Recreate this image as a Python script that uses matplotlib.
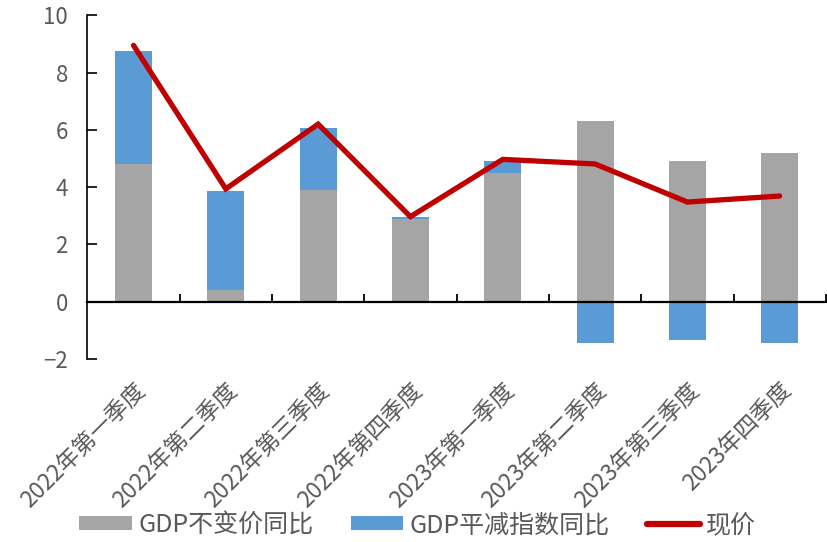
import matplotlib
matplotlib.use('Agg')

import matplotlib.pyplot as plt
from matplotlib.patches import Patch
from matplotlib.lines import Line2D
import numpy as np

plt.rcParams['font.family'] = ['Noto Sans CJK SC', 'DejaVu Sans']
plt.rcParams['axes.unicode_minus'] = True

quarters = ["2022年第一季度", "2022年第二季度", "2022年第三季度", "2022年第四季度",
            "2023年第一季度", "2023年第二季度", "2023年第三季度", "2023年四季度"]
real_gdp = [4.8, 0.4, 3.9, 2.9, 4.5, 6.3, 4.9, 5.2]
deflator = [3.95, 3.45, 2.15, 0.05, 0.4, -1.43, -1.34, -1.43]
nominal = [8.95, 3.94, 6.2, 2.97, 4.97, 4.81, 3.48, 3.69]

COLORS = {
    "real": "#A5A5A5",
    "deflator": "#5B9BD5",
    "nominal": "#C00000",
    "text": "#595959",
}

fig = plt.figure(figsize=(8.27, 5.42), dpi=100)
ax = fig.add_axes([0.1056, 0.3376, 0.893, 0.6342])

x = np.arange(len(quarters))
real = np.array(real_gdp)
defl = np.array(deflator)
width = 0.4

ax.bar(x, real, width, color=COLORS["real"], zorder=2)
# deflator stacks on top when positive, hangs below zero when negative
ax.bar(x, defl, width, bottom=np.where(defl >= 0, real, 0),
       color=COLORS["deflator"], zorder=2)
ax.plot(x, nominal, color=COLORS["nominal"], linewidth=3.8,
        solid_capstyle='round', solid_joinstyle='miter', zorder=3)

ax.set_xlim(-0.5, len(quarters) - 0.5)
ax.set_ylim(-2, 10)
ax.set_yticks(np.arange(-2, 11, 2))
ax.set_yticklabels([f"{v}" if v >= 0 else f"\u2212{abs(v)}" for v in range(-2, 11, 2)])

ax.spines['top'].set_visible(False)
ax.spines['right'].set_visible(False)
ax.spines['bottom'].set_position(('data', 0))
ax.spines['bottom'].set_linewidth(1.6)
ax.spines['left'].set_linewidth(1.2)

# category boundary ticks on the zero line, labels sit under the plot
ax.set_xticks(x)
ax.set_xticklabels([])
ax.set_xticks(np.arange(0.5, len(quarters), 1), minor=True)
ax.tick_params(axis='x', which='major', length=0)
ax.tick_params(axis='x', which='minor', direction='in', length=6, width=1.3)
ax.tick_params(axis='y', direction='in', length=7, width=1.2,
               labelsize=16, labelcolor=COLORS["text"], pad=14)

for xi, lab in zip(x, quarters):
    ax.text(xi + 0.0, -2.68, lab, rotation=45, ha='right', va='top',
            rotation_mode='anchor', fontsize=16.5, color=COLORS["text"])

handles = [
    Patch(facecolor=COLORS["real"], label="GDP不变价同比"),
    Patch(facecolor=COLORS["deflator"], label="GDP平减指数同比"),
    Line2D([0], [0], color=COLORS["nominal"], linewidth=4.5,
           solid_capstyle='round', label="现价"),
]
fig.legend(handles=handles, loc='center', bbox_to_anchor=(0.505, 0.031), ncol=3,
           frameon=False, fontsize=18, labelcolor=COLORS["text"],
           handlelength=2.1, handleheight=0.5, handletextpad=0.25,
           columnspacing=1.5)

fig.savefig("out.png", dpi=100, facecolor="white")
